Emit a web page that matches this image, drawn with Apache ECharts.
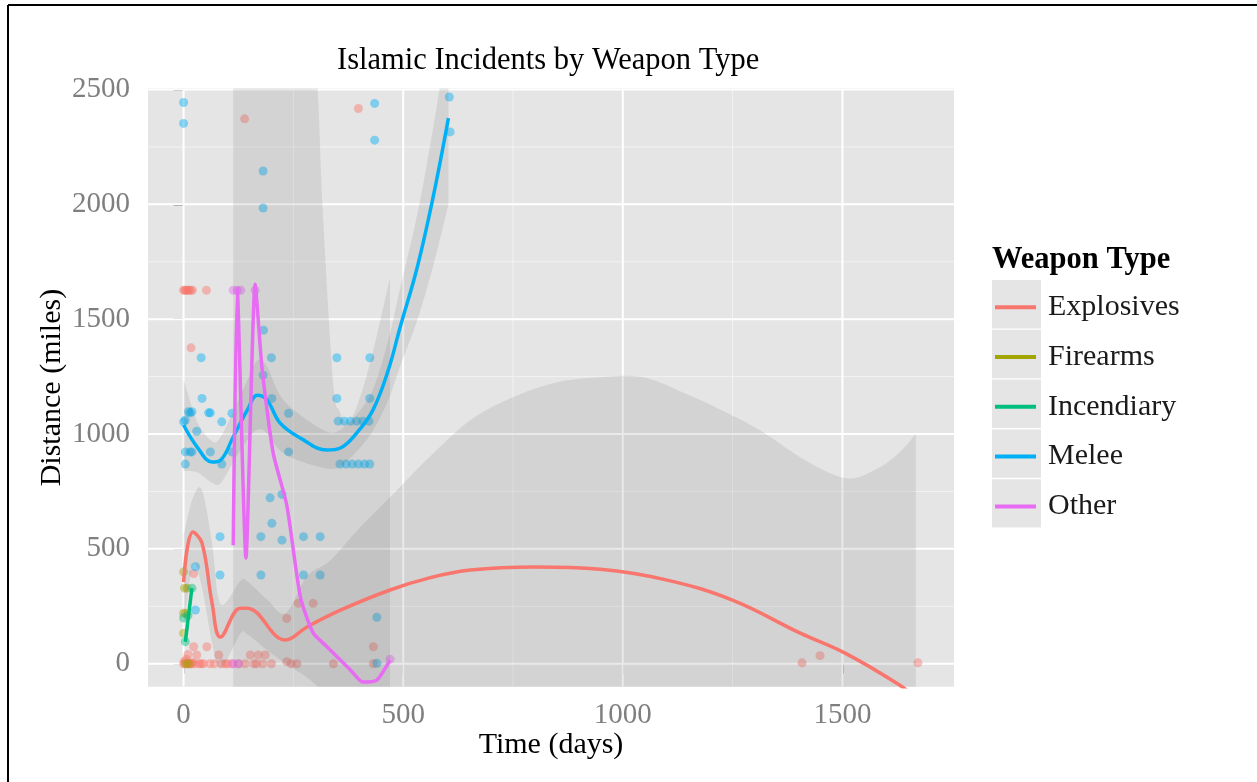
<!DOCTYPE html>
<html><head><meta charset="utf-8">
<script src="https://cdn.jsdelivr.net/npm/echarts@6/dist/echarts.min.js"></script>
<style>html,body{margin:0;padding:0;background:#fff}#c{width:1257px;height:782px}</style>
</head><body><div id="c"></div>
<script>
const FONT = '"Liberation Serif","Times New Roman",serif';
const seriesNames = ['Explosives','Firearms','Incendiary','Melee','Other'];
const seriesColors = ['#F8766D','#A3A500','#00BF7D','#00B0F6','#E76BF3'];
const xRange = [-81, 1754];
const yRange = [-100, 2504];
const xTicks = [0,500,1000,1500];
const yTicks = [0,500,1000,1500,2000,2500];
const xMinor = [250,750,1250];
const yMinor = [250,750,1250,1750,2250];

// scatter points [days, miles]
const explosivesPts = [[0,1626],[3,1626],[6,1626],[9,1626],[12,1626],[16,1626],[20,1626],[52,1626],[17,1375],[139,2372],[398,2417],
 [0,0],[2,10],[4,0],[6,20],[8,0],[10,40],[12,0],[15,0],[18,0],[20,5],[23,74],[25,0],[30,38],[35,0],[40,0],[45,0],[53,74],[60,0],[70,0],[80,38],[87,0],[95,0],[100,0],[110,0],[125,0],[140,0],[152,38],[160,0],[166,0],[170,38],[180,0],[186,38],[200,0],[235,197],[235,9],[245,0],[258,0],[261,263],[295,263],[341,0],[432,74],[432,0],[1408,4],[1449,35],[1672,4],[23,393]];
const firearmsPts = [[0,400],[2,329],[8,329],[0,220],[5,220],[0,133],[5,0],[12,0]];
const incendiaryPts = [[0,199],[4,96],[19,329],[10,210]];
const meleePts = [[0,2443],[0,2352],[181,2145],[181,1984],[435,2439],[435,2279],[605,2467],[607,2315],
 [40,1332],[200,1332],[349,1332],[424,1332],[182,1452],[181,1256],
 [42,1155],[201,1155],[349,1155],[424,1155],
 [11,1097],[19,1097],[15,1092],[57,1092],[61,1092],[110,1090],[239,1090],
 [0,1053],[4,1061],[87,1053],[30,1012],
 [352,1056],[366,1056],[380,1056],[394,1056],[408,1056],[422,1056],
 [356,869],[370,869],[384,869],[398,869],[412,869],[424,869],
 [4,922],[15,922],[19,922],[61,922],[110,922],[239,922],
 [4,869],[87,869],
 [197,722],[224,737],[201,611],
 [83,553],[176,553],[224,538],[273,553],[311,553],
 [83,386],[176,386],[273,386],[311,386],
 [27,422],[27,234],[440,202],[440,2]];
const otherPts = [[113,1626],[122,1626],[130,1626],[163,1626],[113,0],[125,0],[470,20]];

// smoothed fits [days, miles]
const explosivesLine = [[0,355],[21,573],[42,525],[65,263],[84,116],[129,242],[144,242],[232,103],[281,160],[357,233],[470,321],[562,375],[653,408],[800,421],[948,411],[1101,364],[1251,276],[1404,133],[1506,46],[1630,-93],[1667,-150]];
const incendiaryLine = [[4,96],[19,329]];
const meleeLine = [[0,1039],[31,943],[65,878],[84,886],[113,987],[145,1104],[168,1169],[190,1148],[220,1047],[266,982],[327,930],[357,939],[394,1004],[431,1104],[466,1278],[493,1465],[532,1726],[568,2030],[603,2375]];
const otherLine = [[113,516],[122,1635],[142,460],[163,1652],[179,1278],[204,917],[235,690],[266,290],[295,134],[327,73],[350,29],[380,-27],[408,-80],[440,-71],[470,16]];

// confidence bands [days, lower, upper]
const explosivesBand = [[0,150,560],[21,430,720],[42,330,755],[65,90,520],[84,-20,260],[129,130,360],[144,130,360],[190,60,280],[232,0,220],[281,-60,380],[334,-150,450],[400,-250,590],[470,-350,725],[560,-400,900],[653,-450,1060],[750,-450,1160],[850,-450,1225],[948,-450,1247],[1046,-450,1247],[1150,-450,1170],[1250,-500,1080],[1320,-550,1007],[1420,-700,880],[1511,-800,807],[1580,-900,850],[1630,-1000,920],[1667,-1100,1000]];
const meleeBand = [[0,839,1239],[31,833,1053],[65,788,968],[84,786,986],[113,877,1097],[145,974,1234],[168,1019,1319],[190,1003,1293],[220,927,1167],[266,882,1082],[327,850,1010],[357,859,1019],[394,924,1084],[431,1014,1194],[466,1148,1408],[493,1295,1635],[532,1496,1956],[568,1730,2330],[603,2000,2750]];
const otherBand = [[113,-2000,5000],[200,-2000,5000],[280,-1500,3200],[305,-1000,2505],[316,-800,2000],[340,-600,1230],[355,-500,1100],[375,-400,1050],[400,-400,1150],[430,-400,1350],[470,-500,1680]];

const BAND_FILL = 'rgba(110,110,110,0.15)';

const gridItems = [].concat(
  xMinor.map(v => [v, yTicks[0], 0, 0]),
  yMinor.map(v => [xTicks[0], v, 1, 0]),
  xTicks.map(v => [v, yTicks[0], 0, 1]),
  yTicks.map(v => [xTicks[0], v, 1, 1])
);

// Catmull-Rom rendering of pixel-space outline (drawing only)
function crPath(P, seg) {
  const out = [];
  const n = P.length;
  for (let i = 0; i < n - 1; i++) {
    const p0 = P[Math.max(i - 1, 0)], p1 = P[i], p2 = P[i + 1], p3 = P[Math.min(i + 2, n - 1)];
    for (let s = 0; s < seg; s++) {
      const t = s / seg, t2 = t * t, t3 = t2 * t;
      const f = k => 0.5 * (2 * p1[k] + (-p0[k] + p2[k]) * t + (2 * p0[k] - 5 * p1[k] + 4 * p2[k] - p3[k]) * t2 + (-p0[k] + 3 * p1[k] - 3 * p2[k] + p3[k]) * t3);
      out.push([f(0), f(1)]);
    }
  }
  out.push(P[n - 1]);
  return out;
}

function bandSeries(band) {
  return {
    type: 'custom', silent: true, clip: true, z: 3,
    data: [[band[0][0], band[0][2]]],
    renderItem: (params, api) => {
      const up = crPath(band.map(p => api.coord([p[0], p[2]])), 12);
      const lo = crPath(band.map(p => api.coord([p[0], p[1]])), 12).reverse();
      return { type: 'polygon', shape: { points: up.concat(lo) }, style: { fill: BAND_FILL } };
    }
  };
}
function scatterSeries(i, pts) {
  return { type: 'scatter', name: seriesNames[i], data: pts, symbolSize: 9, z: 2, silent: true,
    itemStyle: { color: seriesColors[i], opacity: 0.45 } };
}
function lineSeries(i, pts, sm) {
  return { type: 'line', name: seriesNames[i], data: pts, showSymbol: false, smooth: sm,
    z: 4, silent: true, clip: true, lineStyle: { color: seriesColors[i], width: 3.5 } };
}

const chart = echarts.init(document.getElementById('c'), null, { renderer: 'canvas' });
const legendTop = 279.3, keyH = 49.8;
const keyRects = seriesNames.map((n, i) => ({
  type: 'rect', z: 0, shape: { x: 992, y: legendTop + i * keyH + 0.7, width: 49, height: keyH - 1.4 },
  style: { fill: '#E5E5E5' }
}));

chart.setOption({
  animation: false,
  backgroundColor: '#fff',
  title: [
    { text: 'Islamic Incidents by Weapon Type', left: 337, top: 45, padding: 0,
      textStyle: { fontFamily: FONT, fontSize: 30.5, fontWeight: 'normal', color: '#000' } },
    { text: 'Weapon Type', left: 992, top: 245, padding: 0,
      textStyle: { fontFamily: FONT, fontSize: 30.5, fontWeight: 'bold', color: '#000' } }
  ],
  legend: {
    orient: 'vertical', left: 995, top: legendTop + 3, padding: 0, itemGap: 0,
    itemWidth: 41, itemHeight: 4, icon: 'rect', selectedMode: false,
    textStyle: { fontFamily: FONT, fontSize: 30, color: '#1a1a1a', lineHeight: keyH, padding: [0,0,0,7] },
    data: seriesNames.map((n, i) => ({ name: n, itemStyle: { color: seriesColors[i], opacity: 1 } }))
  },
  graphic: [
    { type: 'line', shape: { x1: 8, y1: 5, x2: 1257, y2: 5 }, style: { stroke: '#000', lineWidth: 2 } },
    { type: 'line', shape: { x1: 8, y1: 5, x2: 8, y2: 782 }, style: { stroke: '#000', lineWidth: 2 } }
  ].concat(keyRects),
  grid: { left: 148, top: 88.5, width: 806, height: 598.2, show: true, backgroundColor: '#E5E5E5', borderWidth: 0 },
  xAxis: {
    type: 'value', min: xRange[0], max: xRange[1],
    axisLine: { show: false },
    axisTick: { show: true, length: 10, customValues: xTicks, lineStyle: { color: '#7f7f7f', width: 1.5 } },
    axisLabel: { customValues: xTicks, formatter: v => String(v), color: '#7f7f7f', fontFamily: FONT, fontSize: 29, margin: 14 },
    splitLine: { show: false },
    name: 'Time (days)', nameLocation: 'middle', nameGap: 43, nameMoveOverlap: false,
    nameTextStyle: { fontFamily: FONT, fontSize: 30, color: '#000' }
  },
  yAxis: {
    type: 'value', min: yRange[0], max: yRange[1],
    axisLine: { show: false },
    axisTick: { show: true, length: 10, customValues: yTicks, lineStyle: { color: '#7f7f7f', width: 1.5 } },
    axisLabel: { customValues: yTicks, formatter: v => String(v), color: '#7f7f7f', fontFamily: FONT, fontSize: 29, margin: 18 },
    splitLine: { show: false },
    name: 'Distance (miles)', nameLocation: 'middle', nameGap: 81, nameMoveOverlap: false,
    nameTextStyle: { fontFamily: FONT, fontSize: 30, color: '#000' }
  },
  series: [
    {
      type: 'custom', silent: true, clip: true, z: 1, data: gridItems,
      renderItem: (params, api) => {
        const cs = params.coordSys;
        const p = api.coord([api.value(0), api.value(1)]);
        const major = api.value(3) === 1;
        const shape = api.value(2) === 0
          ? { x1: p[0], y1: cs.y, x2: p[0], y2: cs.y + cs.height }
          : { x1: cs.x, y1: p[1], x2: cs.x + cs.width, y2: p[1] };
        return { type: 'line', shape, style: { stroke: major ? '#FFFFFF' : '#F2F2F2', lineWidth: major ? 2 : 1 } };
      }
    },
    scatterSeries(0, explosivesPts),
    scatterSeries(1, firearmsPts),
    scatterSeries(2, incendiaryPts),
    scatterSeries(3, meleePts),
    scatterSeries(4, otherPts),
    bandSeries(explosivesBand),
    bandSeries(meleeBand),
    bandSeries(otherBand),
    lineSeries(0, explosivesLine, 0.4),
    lineSeries(2, incendiaryLine, 0),
    lineSeries(3, meleeLine, 0.4),
    lineSeries(4, otherLine, 0.2)
  ]
});
</script></body></html>
